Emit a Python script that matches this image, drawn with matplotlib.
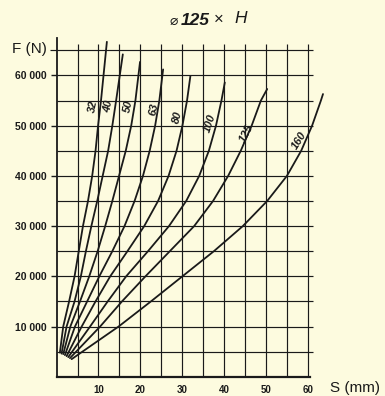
import matplotlib
matplotlib.use("Agg")
import matplotlib.pyplot as plt
import numpy as np

# Force-deflection chart, dia 125 x H
heights = [32, 40, 50, 63, 80, 100, 125, 160]

force_levels = [10000, 15000, 20000, 25000, 30000, 35000, 40000, 45000, 50000, 55000]

# deflection S (mm) at each force level, one list per height
s_32 = [1.6, 3.0, 4.3, 5.3, 6.3, 7.5, 8.5, 9.3, 9.9, 10.6]
s_40 = [2.4, 4.3, 5.8, 7.0, 8.3, 9.7, 11.0, 12.3, 13.3, 14.2]
s_50 = [3.3, 5.6, 7.8, 9.8, 11.6, 13.3, 14.9, 16.5, 17.8, 18.8]
s_63 = [4.4, 7.3, 10.2, 13.3, 16.2, 18.6, 20.6, 22.2, 23.5, 24.5]
s_80 = [6.0, 9.3, 12.8, 16.9, 20.9, 24.2, 26.7, 28.6, 30.0, 31.1]
s_100 = [8.0, 12.2, 16.6, 21.8, 26.8, 30.9, 34.0, 36.3, 38.0, 39.3]
s_125 = [10.4, 15.6, 21.2, 27.0, 32.8, 37.3, 40.9, 43.9, 46.5, 48.7]
s_160 = [14.8, 22.5, 30.0, 37.5, 44.4, 50.2, 54.9, 58.3, 60.9, 63.0]
deflections = [s_32, s_40, s_50, s_63, s_80, s_100, s_125, s_160]

# start and end point of every curve
start_s = [0.8, 1.2, 1.6, 2.0, 2.4, 2.8, 3.2, 3.6]
start_F = [4800, 4600, 4500, 4300, 4100, 3900, 3700, 3500]
end_s = [12.0, 15.8, 19.9, 25.4, 31.9, 40.1, 50.2, 63.5]
end_F = [66700, 64200, 62700, 61200, 59900, 58600, 57300, 56300]

# curve labels
label_s = [8.6, 12.3, 17.1, 23.1, 28.8, 36.5, 45.3, 57.8]
label_F = [53900, 53900, 53900, 53300, 51700, 50500, 48500, 47100]
label_rot = [80, 80, 78, 78, 76, 72, 62, 58]

x_ticks = [10, 20, 30, 40, 50, 60]
y_ticks = [10000, 20000, 30000, 40000, 50000, 60000]
y_labels = ["10 000", "20 000", "30 000", "40 000", "50 000", "60 000"]

bg = "#FDFBDF"
ink = "#1a1a1a"
num_font = "Liberation Sans"

fig = plt.figure(figsize=(3.85, 3.96), dpi=100, facecolor=bg)
ax = fig.add_axes([0.1468, 0.0487, 0.654, 0.8558])
ax.set_facecolor(bg)
ax.set_xlim(0, 60)
ax.set_ylim(0, 67500)

# grid
for yv in range(5000, 65001, 5000):
    ax.hlines(yv, 0, 61, color=ink, lw=0.85, clip_on=False, zorder=1)
ax.hlines(65000, -1.5, 0, color=ink, lw=0.85, clip_on=False)
for xv in range(5, 61, 5):
    ax.vlines(xv, 0, 66200, color=ink, lw=0.85, clip_on=False, zorder=1)

# curves
for i, h in enumerate(heights):
    xs = [start_s[i]] + deflections[i] + [end_s[i]]
    ys = [start_F[i]] + force_levels + [end_F[i]]
    ax.plot(xs, ys, color=ink, lw=1.3, clip_on=False, zorder=3,
            solid_joinstyle="round", solid_capstyle="round")
    ax.text(label_s[i], label_F[i], str(h), rotation=label_rot[i],
            ha="center", va="center", fontsize=8, fontweight="bold",
            fontstyle="italic", family=num_font, color=ink, zorder=4)

for side in ["top", "right"]:
    ax.spines[side].set_visible(False)
ax.spines["left"].set_linewidth(1.3)
ax.spines["bottom"].set_linewidth(1.6)
ax.spines["left"].set_color(ink)
ax.spines["bottom"].set_color(ink)
ax.spines["bottom"].set_bounds(0, 60.5)

ax.set_xticks(x_ticks)
ax.set_xticklabels([str(v) for v in x_ticks], fontsize=7, fontweight="bold",
                   family=num_font)
ax.tick_params(axis="x", length=0, pad=6, colors=ink)
ax.set_yticks(y_ticks)
ax.set_yticklabels(y_labels, fontsize=7.5, fontweight="bold", family=num_font)
ax.tick_params(axis="y", length=4, width=1, pad=3, direction="out", colors=ink)

fig.text(0.857, 0.021, "S (mm)", fontsize=11, family=num_font, color=ink,
         ha="left", va="center")
fig.text(0.032, 0.877, "F (N)", fontsize=11, family=num_font, color=ink,
         ha="left", va="center")

# title
fig.text(0.451, 0.948, "\u2300", fontsize=10, family="DejaVu Sans", color=ink,
         ha="center", va="center")
fig.text(0.508, 0.949, "125", fontsize=12.5, fontweight="bold", fontstyle="italic",
         family=num_font, color=ink, ha="center", va="center")
fig.text(0.569, 0.952, "\u00d7", fontsize=12, family=num_font, color=ink,
         ha="center", va="center")
fig.text(0.624, 0.954, "H", fontsize=12.5, fontstyle="italic", family=num_font,
         color=ink, ha="center", va="center")

fig.savefig("out.png", dpi=100, facecolor=bg)
